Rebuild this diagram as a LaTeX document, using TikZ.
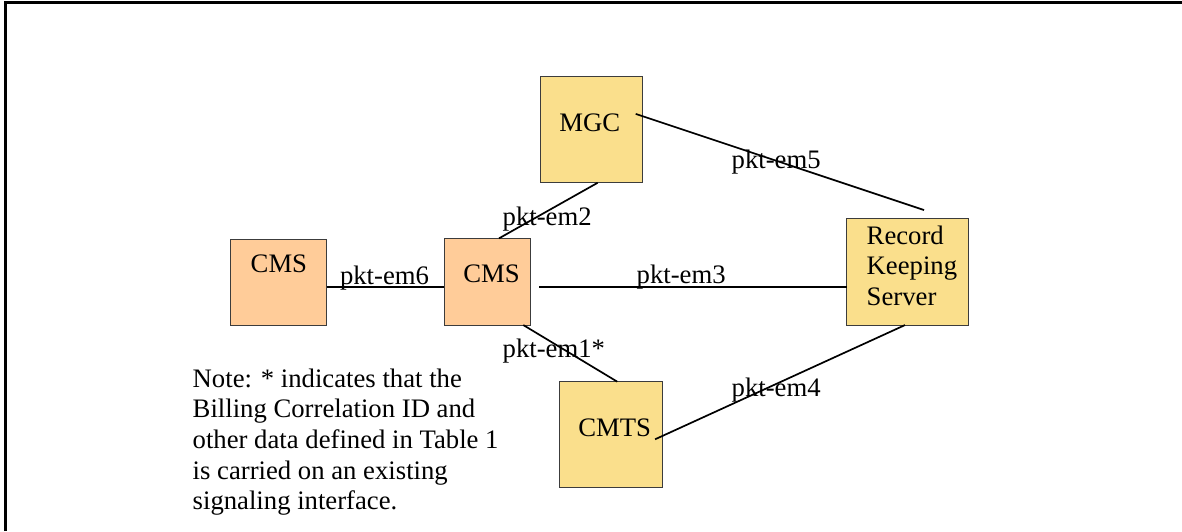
\documentclass[tikz,border=0pt]{standalone}
\usepackage{fontspec}
\setmainfont{Liberation Serif}
\definecolor{boxyellow}{RGB}{250,223,140}
\definecolor{boxpeach}{RGB}{255,204,153}
\definecolor{boxedge}{RGB}{60,60,60}
\begin{document}
\begin{tikzpicture}[x=1pt,y=-1pt,
  every node/.style={inner sep=0pt,outer sep=0pt},
  txt/.style={font=\fontsize{26.7}{30.6}\selectfont,anchor=base west},
  unit/.style={draw=boxedge,line width=1pt,rectangle},
  ybox/.style={unit,fill=boxyellow},
  pbox/.style={unit,fill=boxpeach},
  link/.style={line width=1.7pt,black}]
\useasboundingbox (0,0) rectangle (1182,531);
\fill[white] (0,0) rectangle (1182,531);
% frame
\draw[line width=3pt] (5.3,531) -- (5.3,2.5) -- (1182,2.5);
% boxes
\node[ybox,minimum width=101.7pt,minimum height=106.7pt] (mgc) at (591.5,129.4) {};
\node[pbox,minimum width=86.4pt,minimum height=86.7pt] (cmsm) at (487.5,281.7) {};
\node[pbox,minimum width=95.7pt,minimum height=86pt] (cmsl) at (278.8,282) {};
\node[ybox,minimum width=121.6pt,minimum height=106.7pt] (rks) at (907.5,271.7) {};
\node[ybox,minimum width=102.7pt,minimum height=106pt] (cmts) at (610.7,434.7) {};
% box texts
\node[txt] (tmgc) at (559.3,131) {MGC};
\node[txt] (tcmsm) at (463.3,282.3) {CMS};
\node[txt] (tcmsl) at (250.7,272.7) {CMS};
\node[txt] (tcmts) at (578.3,436) {CMTS};
\node[txt,align=left] (trks) at (866.7,305.5) {Record\\Keeping\\Server};
% connectors
\draw[link] ([yshift=-4.7pt]cmsl.east) -- ([yshift=-5pt]cmsm.west);
\draw[link] ([xshift=8.6pt,yshift=-5pt]cmsm.east) -- ([yshift=-15pt]rks.west);
\draw[link] ([xshift=6.2pt]mgc.south) -- ([xshift=11.5pt]cmsm.north);
\draw[link] ([xshift=-6.6pt,yshift=15.5pt]mgc.east) -- ([xshift=16.5pt,yshift=8.3pt]rks.north);
\draw[link] ([xshift=35.8pt]cmsm.south) -- ([xshift=6.6pt]cmts.north);
\draw[link] ([xshift=-7pt,yshift=-4.6pt]cmts.east) -- ([xshift=-2.5pt]rks.south);
% connector labels
\node[txt] (l6) at (340,284) {pkt-em6};
\node[txt] (l3) at (636.7,283) {pkt-em3};
\node[txt] (l2) at (502.7,225) {pkt-em2};
\node[txt] (l5) at (731.7,168.3) {pkt-em5};
\node[txt] (l4) at (731.7,396.7) {pkt-em4};
\node[txt] (l1) at (502.7,357) {pkt-em1*};
% note
\node[txt,align=left] (note) at (192.7,509.7) {Note: * indicates that the\\Billing Correlation ID and\\other data defined in Table 1\\is carried on an existing\\signaling interface.};
\end{tikzpicture}
\end{document}
